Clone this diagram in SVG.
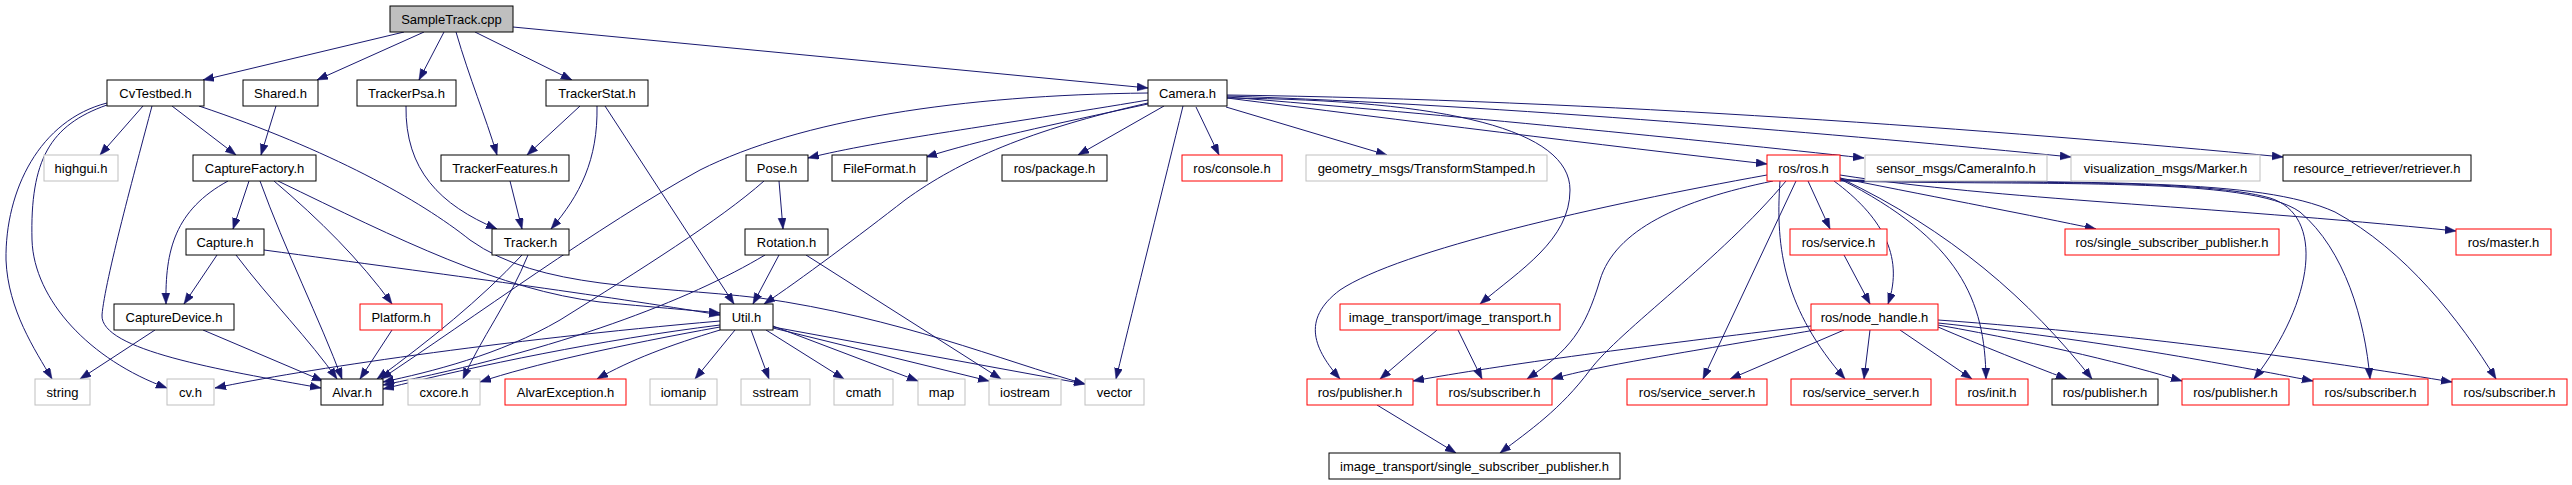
<svg xmlns="http://www.w3.org/2000/svg" width="2572" height="485" viewBox="0 0 2572 485">
<style>
rect{fill:#fff;stroke:#000;stroke-width:1}
.g rect{stroke:#bfbfbf}
.r rect{stroke:#ff0000}
.s rect{fill:#bfbfbf}
text{font-family:"Liberation Sans",Arial,sans-serif;font-size:13px;text-anchor:middle;fill:#000}
#edges path{fill:none;stroke:#191970;stroke-width:1;marker-end:url(#a)}
</style>
<defs>
<marker id="a" markerUnits="userSpaceOnUse" markerWidth="12" markerHeight="9" refX="11" refY="4" orient="auto">
<path d="M0,0 L11,4 L0,8 z" fill="#191970" stroke="#191970" stroke-width="0.5"/>
</marker>
</defs>
<rect x="0" y="0" width="2572" height="485" style="stroke:none;fill:#fff"/>
<g id="edges">
<path d="M404,32 L203,80"/>
<path d="M424,32 L317,80"/>
<path d="M444,32 L419,80"/>
<path d="M456,32 C470,80 485,115 497,155"/>
<path d="M475,32 L572,80"/>
<path d="M513,27 L1148,88"/>
<path d="M143,106 L100,155"/>
<path d="M172,106 L236,155"/>
<path d="M107,103 C40,120 5,190 6,260 C8,310 35,350 52,379"/>
<path d="M107,105 C50,125 30,160 32,240 C34,300 90,360 167,388"/>
<path d="M152,106 C135,170 105,280 102,315 C100,350 220,370 321,388"/>
<path d="M199,106 C330,150 420,200 470,240 C540,290 650,285 760,298 C900,318 1000,360 1085,384"/>
<path d="M228,181 C175,210 165,250 166,304"/>
<path d="M249,181 L233,229"/>
<path d="M260,181 C285,250 320,320 342,379"/>
<path d="M274,181 C320,220 360,260 392,304"/>
<path d="M278,181 C400,240 500,290 600,302 C650,307 690,310 720,313"/>
<path d="M217,255 L184,304"/>
<path d="M236,255 C270,300 310,340 337,379"/>
<path d="M264,250 C450,275 600,295 720,315"/>
<path d="M155,330 L80,379"/>
<path d="M203,330 L323,381"/>
<path d="M392,330 L360,379"/>
<path d="M276,106 L261,155"/>
<path d="M406,106 C405,170 440,205 497,229"/>
<path d="M510,181 L522,229"/>
<path d="M580,106 L527,155"/>
<path d="M597,106 C598,160 580,195 551,229"/>
<path d="M605,106 L734,304"/>
<path d="M522,255 C480,300 430,340 377,379"/>
<path d="M528,255 C510,300 480,340 463,379"/>
<path d="M1148,93 C960,95 800,120 700,170 C600,225 470,320 381,379"/>
<path d="M1148,100 C1000,125 880,140 808,158"/>
<path d="M1148,104 C1050,125 980,140 926,157"/>
<path d="M1148,103 C1030,130 960,160 905,200 C860,235 800,280 764,304"/>
<path d="M1164,106 L1078,155"/>
<path d="M1183,106 C1165,180 1135,300 1116,379"/>
<path d="M1196,107 L1219,155"/>
<path d="M1226,107 L1387,155"/>
<path d="M1227,98 C1400,120 1600,145 1767,164"/>
<path d="M1227,97 C1450,115 1700,140 1864,158"/>
<path d="M1227,96 C1500,105 1850,135 2071,157"/>
<path d="M1227,95 C1600,100 2000,130 2283,157"/>
<path d="M1227,98 C1450,100 1570,130 1570,190 C1570,240 1520,270 1480,304"/>
<path d="M779,181 L783,229"/>
<path d="M764,181 C720,220 640,270 560,320 C500,355 430,372 383,382"/>
<path d="M765,255 C690,300 560,350 383,385"/>
<path d="M779,255 L753,304"/>
<path d="M806,255 L1001,379"/>
<path d="M720,325 C600,340 480,365 383,389"/>
<path d="M720,321 C500,340 300,370 215,388"/>
<path d="M720,327 C620,345 530,365 480,382"/>
<path d="M720,330 C670,345 630,360 597,379"/>
<path d="M735,330 L695,379"/>
<path d="M751,330 L769,379"/>
<path d="M766,330 L844,379"/>
<path d="M773,326 L918,381"/>
<path d="M773,328 L989,381"/>
<path d="M773,327 L1085,384"/>
<path d="M1437,330 L1380,379"/>
<path d="M1458,330 L1482,379"/>
<path d="M1377,405 L1456,453"/>
<path d="M1767,175 C1600,205 1400,250 1340,290 C1300,320 1315,350 1340,379"/>
<path d="M1773,181 C1680,200 1615,230 1600,280 C1585,330 1570,350 1527,379"/>
<path d="M1786,181 C1720,260 1620,330 1590,370 C1560,410 1530,430 1500,453"/>
<path d="M1796,181 L1703,379"/>
<path d="M1780,181 C1775,250 1785,310 1845,379"/>
<path d="M1808,181 L1830,229"/>
<path d="M1834,181 C1880,215 1905,255 1888,304"/>
<path d="M1840,179 C1960,240 1985,300 1986,379"/>
<path d="M1840,178 C1950,230 2030,300 2092,379"/>
<path d="M1840,180 C2000,184 2200,178 2270,198 C2325,215 2315,300 2254,379"/>
<path d="M1840,181 C2050,186 2250,176 2300,212 C2345,250 2365,320 2370,379"/>
<path d="M1840,180 C2100,183 2260,178 2335,212 C2405,250 2460,320 2496,379"/>
<path d="M1840,178 C1950,200 2030,215 2096,229"/>
<path d="M1840,175 C2000,200 2200,205 2456,231"/>
<path d="M1844,255 L1870,304"/>
<path d="M1811,326 C1650,345 1500,365 1413,381"/>
<path d="M1815,330 C1700,350 1600,365 1552,379"/>
<path d="M1844,330 L1730,379"/>
<path d="M1870,330 L1864,379"/>
<path d="M1900,330 L1972,379"/>
<path d="M1938,327 C1980,345 2030,365 2067,379"/>
<path d="M1938,325 C2050,345 2130,365 2182,381"/>
<path d="M1938,323 C2100,340 2230,365 2313,381"/>
<path d="M1938,320 C2150,335 2350,365 2452,382"/>
</g>
<g id="n_sampletrack" class="s"><rect x="390" y="6" width="123" height="26"/><text x="451.5" y="23.5">SampleTrack.cpp</text></g>
<g id="n_cvtestbed"><rect x="107" y="80" width="97" height="26"/><text x="155.5" y="97.5">CvTestbed.h</text></g>
<g id="n_shared"><rect x="243" y="80" width="75" height="26"/><text x="280.5" y="97.5">Shared.h</text></g>
<g id="n_trackerpsa"><rect x="357" y="80" width="99" height="26"/><text x="406.5" y="97.5">TrackerPsa.h</text></g>
<g id="n_trackerstat"><rect x="546" y="80" width="102" height="26"/><text x="597" y="97.5">TrackerStat.h</text></g>
<g id="n_camera"><rect x="1148" y="80" width="79" height="26"/><text x="1187.5" y="97.5">Camera.h</text></g>
<g id="n_highgui" class="g"><rect x="44" y="155" width="74" height="26"/><text x="81" y="172.5">highgui.h</text></g>
<g id="n_capturefactory"><rect x="193" y="155" width="123" height="26"/><text x="254.5" y="172.5">CaptureFactory.h</text></g>
<g id="n_trackerfeatures"><rect x="441" y="155" width="128" height="26"/><text x="505" y="172.5">TrackerFeatures.h</text></g>
<g id="n_pose"><rect x="746" y="155" width="62" height="26"/><text x="777" y="172.5">Pose.h</text></g>
<g id="n_fileformat"><rect x="832" y="155" width="95" height="26"/><text x="879.5" y="172.5">FileFormat.h</text></g>
<g id="n_package"><rect x="1002" y="155" width="105" height="26"/><text x="1054.5" y="172.5">ros/package.h</text></g>
<g id="n_console" class="r"><rect x="1182" y="155" width="100" height="26"/><text x="1232" y="172.5">ros/console.h</text></g>
<g id="n_geometry" class="g"><rect x="1306" y="155" width="241" height="26"/><text x="1426.5" y="172.5">geometry_msgs/TransformStamped.h</text></g>
<g id="n_ros" class="r"><rect x="1767" y="155" width="73" height="26"/><text x="1803.5" y="172.5">ros/ros.h</text></g>
<g id="n_camerainfo" class="g"><rect x="1865" y="155" width="182" height="26"/><text x="1956" y="172.5">sensor_msgs/CameraInfo.h</text></g>
<g id="n_marker" class="g"><rect x="2071" y="155" width="189" height="26"/><text x="2165.5" y="172.5">visualization_msgs/Marker.h</text></g>
<g id="n_retriever"><rect x="2283" y="155" width="188" height="26"/><text x="2377" y="172.5">resource_retriever/retriever.h</text></g>
<g id="n_capture"><rect x="186" y="229" width="78" height="26"/><text x="225" y="246.5">Capture.h</text></g>
<g id="n_tracker"><rect x="492" y="229" width="77" height="26"/><text x="530.5" y="246.5">Tracker.h</text></g>
<g id="n_rotation"><rect x="745" y="229" width="83" height="26"/><text x="786.5" y="246.5">Rotation.h</text></g>
<g id="n_service" class="r"><rect x="1790" y="229" width="97" height="26"/><text x="1838.5" y="246.5">ros/service.h</text></g>
<g id="n_rossinglesub" class="r"><rect x="2065" y="229" width="214" height="26"/><text x="2172" y="246.5">ros/single_subscriber_publisher.h</text></g>
<g id="n_master" class="r"><rect x="2456" y="229" width="95" height="26"/><text x="2503.5" y="246.5">ros/master.h</text></g>
<g id="n_capturedevice"><rect x="114" y="304" width="120" height="26"/><text x="174" y="321.5">CaptureDevice.h</text></g>
<g id="n_platform" class="r"><rect x="360" y="304" width="82" height="26"/><text x="401" y="321.5">Platform.h</text></g>
<g id="n_util"><rect x="720" y="304" width="53" height="26"/><text x="746.5" y="321.5">Util.h</text></g>
<g id="n_imagetransport" class="r"><rect x="1340" y="304" width="220" height="26"/><text x="1450" y="321.5">image_transport/image_transport.h</text></g>
<g id="n_nodehandle" class="r"><rect x="1811" y="304" width="127" height="26"/><text x="1874.5" y="321.5">ros/node_handle.h</text></g>
<g id="n_string" class="g"><rect x="35" y="379" width="55" height="26"/><text x="62.5" y="396.5">string</text></g>
<g id="n_cv" class="g"><rect x="167" y="379" width="47" height="26"/><text x="190.5" y="396.5">cv.h</text></g>
<g id="n_alvar"><rect x="321" y="379" width="62" height="26"/><text x="352" y="396.5">Alvar.h</text></g>
<g id="n_cxcore" class="g"><rect x="408" y="379" width="72" height="26"/><text x="444" y="396.5">cxcore.h</text></g>
<g id="n_alvarexception" class="r"><rect x="505" y="379" width="121" height="26"/><text x="565.5" y="396.5">AlvarException.h</text></g>
<g id="n_iomanip" class="g"><rect x="650" y="379" width="67" height="26"/><text x="683.5" y="396.5">iomanip</text></g>
<g id="n_sstream" class="g"><rect x="741" y="379" width="69" height="26"/><text x="775.5" y="396.5">sstream</text></g>
<g id="n_cmath" class="g"><rect x="834" y="379" width="59" height="26"/><text x="863.5" y="396.5">cmath</text></g>
<g id="n_map" class="g"><rect x="918" y="379" width="47" height="26"/><text x="941.5" y="396.5">map</text></g>
<g id="n_iostream" class="g"><rect x="989" y="379" width="72" height="26"/><text x="1025" y="396.5">iostream</text></g>
<g id="n_vector" class="g"><rect x="1085" y="379" width="59" height="26"/><text x="1114.5" y="396.5">vector</text></g>
<g id="n_publisher1" class="r"><rect x="1307" y="379" width="106" height="26"/><text x="1360" y="396.5">ros/publisher.h</text></g>
<g id="n_subscriber1" class="r"><rect x="1437" y="379" width="115" height="26"/><text x="1494.5" y="396.5">ros/subscriber.h</text></g>
<g id="n_serviceserver1" class="r"><rect x="1627" y="379" width="140" height="26"/><text x="1697" y="396.5">ros/service_server.h</text></g>
<g id="n_serviceserver2" class="r"><rect x="1791" y="379" width="140" height="26"/><text x="1861" y="396.5">ros/service_server.h</text></g>
<g id="n_init" class="r"><rect x="1956" y="379" width="72" height="26"/><text x="1992" y="396.5">ros/init.h</text></g>
<g id="n_publisher2"><rect x="2052" y="379" width="106" height="26"/><text x="2105" y="396.5">ros/publisher.h</text></g>
<g id="n_publisher3" class="r"><rect x="2182" y="379" width="107" height="26"/><text x="2235.5" y="396.5">ros/publisher.h</text></g>
<g id="n_subscriber2" class="r"><rect x="2313" y="379" width="115" height="26"/><text x="2370.5" y="396.5">ros/subscriber.h</text></g>
<g id="n_subscriber3" class="r"><rect x="2452" y="379" width="115" height="26"/><text x="2509.5" y="396.5">ros/subscriber.h</text></g>
<g id="n_imgsinglesub"><rect x="1329" y="453" width="291" height="26"/><text x="1474.5" y="470.5">image_transport/single_subscriber_publisher.h</text></g>
</svg>
